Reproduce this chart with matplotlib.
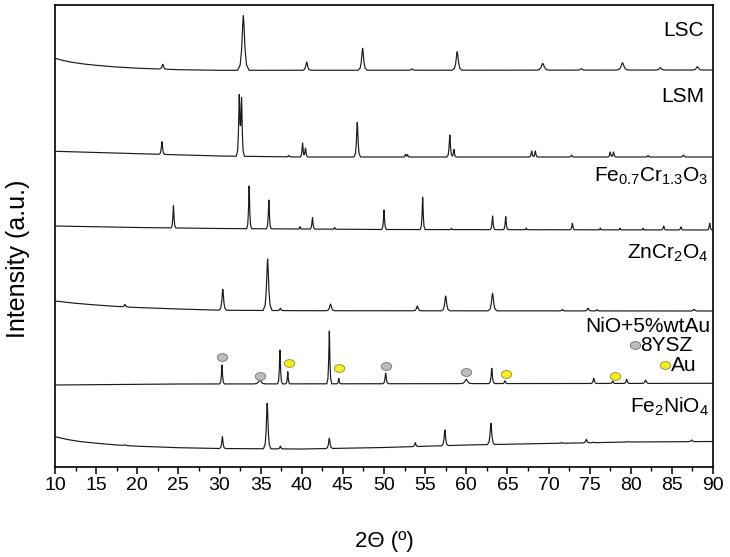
import numpy as np
import matplotlib
matplotlib.use("Agg")
import matplotlib.pyplot as plt
from matplotlib.path import Path
from matplotlib.transforms import Affine2D
from matplotlib.markers import MarkerStyle

plt.rcParams['font.family'] = ['Liberation Sans', 'DejaVu Sans']
plt.rcParams['mathtext.fontset'] = 'custom'
plt.rcParams['mathtext.rm'] = 'Liberation Sans'
plt.rcParams['mathtext.it'] = 'Liberation Sans'

# ---------------- data (2theta, stacked intensity in a.u.) ----------------
# baseline anchors: (2theta, intensity)
lsc_base = [(10, 408.7), (11, 406.5), (12, 404.8), (13.5, 403), (15, 401.7), (17.5, 400), (20, 398.8),
            (25, 397.3), (30, 396.7), (60, 396.8), (90, 397)]
# peaks: (2theta, apex intensity, half base width)
lsc_peaks = [(23.1, 402.7, 0.45), (32.9, 451.3, 0.7), (40.6, 405, 0.5), (47.4, 418.7, 0.55),
             (53.4, 398, 0.5), (58.9, 415.3, 0.6), (69.3, 403.7, 0.75), (74.0, 398.3, 0.5),
             (79.0, 404.3, 0.75), (83.6, 399.3, 0.6), (88.1, 400.3, 0.6)]

lsm_base = [(10, 315.7), (15, 314.5), (20, 313.3), (25, 312.2), (30, 311), (40, 310), (90, 310)]
lsm_peaks = [(23.0, 325.3, 0.35), (32.4, 370, 0.35), (32.68, 367, 0.35), (38.4, 311.7, 0.25),
             (40.1, 324, 0.3), (40.45, 319, 0.3), (46.75, 344.7, 0.4),
             (52.6, 312.7, 0.25), (52.85, 312.7, 0.25), (58.0, 332, 0.35), (58.5, 317.5, 0.3),
             (67.95, 316, 0.3), (68.4, 316, 0.3), (72.8, 312, 0.3), (77.5, 315, 0.3),
             (77.9, 315, 0.3), (82.1, 311.5, 0.3), (86.4, 312, 0.35)]

fecr_base = [(10, 241), (20, 239.5), (30, 238.5), (50, 237.5), (90, 237)]
fecr_peaks = [(24.4, 261.3, 0.3), (33.6, 281, 0.3), (36.0, 267, 0.3), (39.8, 240.3, 0.2),
              (41.3, 249.3, 0.3), (44.0, 239.5, 0.2), (50.0, 257, 0.3), (54.7, 269.7, 0.3),
              (58.2, 238.7, 0.2), (63.2, 251, 0.3), (64.8, 250.3, 0.3), (67.3, 239, 0.2),
              (72.9, 243.7, 0.3), (76.3, 239, 0.2), (78.7, 238.7, 0.2), (81.5, 238.7, 0.2),
              (84.0, 241, 0.3), (86.1, 240, 0.3), (89.6, 243.7, 0.3)]

zn_base = [(10, 166), (12.5, 163.7), (15, 162), (17.5, 160.6), (20, 159.5), (25, 158), (30, 156.8),
           (40, 156.3), (90, 156)]
zn_peaks = [(18.5, 162.5, 0.4), (30.4, 177.7, 0.45), (35.85, 208, 0.55), (37.4, 158.7, 0.35),
            (43.5, 163, 0.5), (54.05, 161, 0.45), (57.5, 171, 0.5), (63.2, 173.7, 0.55),
            (71.7, 157.5, 0.35), (74.8, 158.7, 0.4), (75.9, 157.3, 0.3), (87.7, 157.7, 0.45)]

nio_base = [(10, 82), (25, 83), (90, 83.7)]
nio_peaks = [(30.3, 102, 0.3), (34.9, 87, 0.7), (37.35, 117, 0.3), (38.3, 95.3, 0.25),
             (43.35, 136, 0.3), (44.5, 88.7, 0.25), (50.2, 93.7, 0.35), (60.0, 87.7, 0.7),
             (63.1, 98.7, 0.35), (64.7, 86.3, 0.3), (75.5, 88.7, 0.35), (77.8, 86, 0.3),
             (79.5, 87.7, 0.35), (81.8, 87, 0.4)]
ysz_x = [30.3, 34.9, 50.2, 60.0]
ysz_y = [109.7, 91, 101, 95.3]
au_x = [38.4, 44.5, 64.8, 78.1]
au_y = [103.7, 98.7, 93, 91]

fen_base = [(10, 30.3), (11.5, 27.5), (13, 25.5), (15, 23.8), (17.5, 22), (20, 20.8), (25, 19.3),
            (30, 18.5), (40, 18), (50, 19.5), (60, 22), (70, 23.5), (80, 25), (90, 25.5)]
fen_peaks = [(18.5, 22.2, 0.4), (30.35, 30.3, 0.35), (35.8, 63.7, 0.45), (37.4, 21, 0.3),
             (43.35, 28.7, 0.4), (53.8, 24.3, 0.35), (57.4, 37, 0.4), (63.0, 43.7, 0.45),
             (71.6, 24.5, 0.3), (74.6, 27.7, 0.35), (75.4, 24.8, 0.3), (79.7, 25.5, 0.3),
             (87.4, 27, 0.4)]

labels = ['LSC', 'LSM', r'Fe$_{\mathrm{0.7}}$Cr$_{\mathrm{1.3}}$O$_{\mathrm{3}}$',
          r'ZnCr$_{\mathrm{2}}$O$_{\mathrm{4}}$', 'NiO+5%wtAu', r'Fe$_{\mathrm{2}}$NiO$_{\mathrm{4}}$']
label_x = [88.9, 88.9, 89.5, 89.5, 89.7, 89.5]
label_y = [437, 370.3, 290.3, 214, 140, 60.3]
xticks = list(range(10, 91, 5))

# peak shape (relative offsets and height fractions)
SHAPE_DX = [-1.0, -0.55, -0.3, -0.1, 0.0, 0.1, 0.3, 0.55, 1.0]
SHAPE_FR = [0.0, 0.1, 0.38, 0.85, 1.0, 0.85, 0.38, 0.1, 0.0]


def trace(base, peaks):
    bx = np.array([b[0] for b in base], float)
    by = np.array([b[1] for b in base], float)
    xs = list(bx)
    for c, top, hw in peaks:
        xs += [c + d * hw for d in SHAPE_DX]
    xs = np.unique(np.array(xs))
    ys = np.interp(xs, bx, by)
    for c, top, hw in peaks:
        h = top - np.interp(c, bx, by)
        px = [c + d * hw for d in SHAPE_DX]
        py = [f * h for f in SHAPE_FR]
        ys = ys + np.interp(xs, px, py, left=0, right=0)
    return xs, ys


fig = plt.figure(figsize=(7.30, 5.57), dpi=100)
ax = fig.add_axes([55 / 730, 1 - 467 / 557, 658 / 730, 462 / 557])

for base, peaks in [(lsc_base, lsc_peaks), (lsm_base, lsm_peaks), (fecr_base, fecr_peaks),
                    (zn_base, zn_peaks), (nio_base, nio_peaks), (fen_base, fen_peaks)]:
    xs, ys = trace(base, peaks)
    ax.plot(xs, ys, color='#1a1a1a', lw=0.85)

ell = MarkerStyle(Path.unit_circle().transformed(Affine2D().scale(1.0, 0.75)))
grey = dict(ls='none', marker=ell, ms=7.5, mfc='#bdbdbd', mec='#6e6e6e', mew=0.6)
yell = dict(ls='none', marker=ell, ms=7.5, mfc='#f7ee1c', mec='#8c8a3c', mew=0.6)
ax.plot(ysz_x, ysz_y, **grey)
ax.plot(au_x, au_y, **yell)

for t, x, y in zip(labels, label_x, label_y):
    ax.text(x, y, t, ha='right', va='center', fontsize=15)
ax.plot([80.5], [121.7], **grey)
ax.plot([84.2], [101.7], **yell)
ax.text(81.2, 121.7, '8YSZ', ha='left', va='center', fontsize=15)
ax.text(84.9, 101.7, 'Au', ha='left', va='center', fontsize=15)

ax.set_xlim(10, 90)
ax.set_ylim(0, 462)
ax.set_xticks(xticks)
ax.set_xticklabels([str(v) for v in xticks])
ax.set_xticks(np.arange(12.5, 90, 5), minor=True)
ax.set_yticks([])
ax.tick_params(axis='x', which='major', direction='out', length=5, width=1.1, labelsize=14, pad=2)
ax.tick_params(axis='x', which='minor', direction='out', length=3, width=1.0)
for s in ax.spines.values():
    s.set_linewidth(1.2)

fig.text(18 / 730, 1 - 259 / 557, 'Intensity (a.u.)', rotation=90, ha='center', va='center', fontsize=18)
fig.text(384 / 730, 1 - 541 / 557, '2Θ (º)', ha='center', va='center', fontsize=16)

fig.savefig('out.png', dpi=100)
